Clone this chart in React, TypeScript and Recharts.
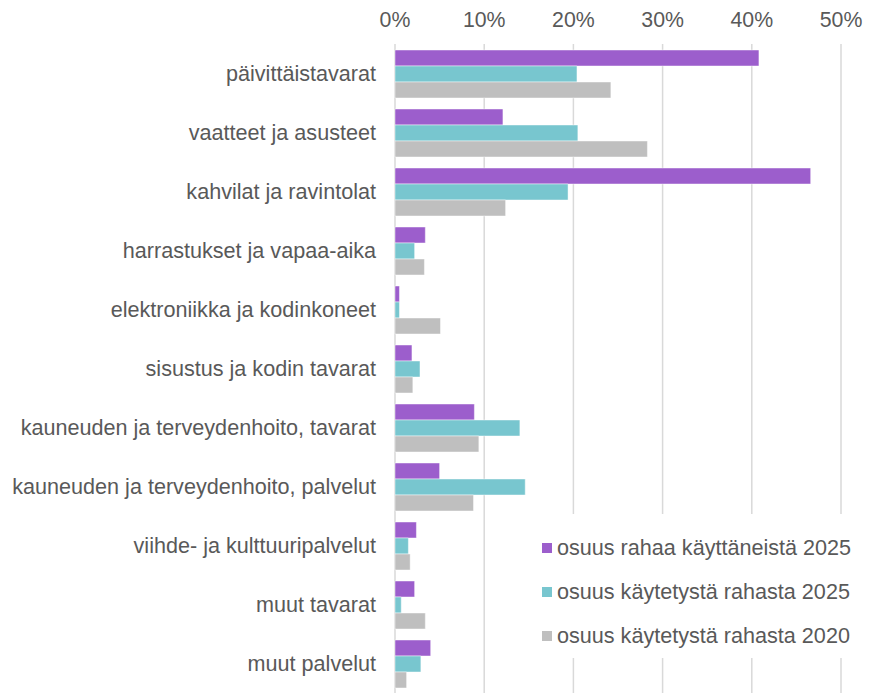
import React from "react";
import {
  BarChart,
  Bar,
  XAxis,
  YAxis,
  CartesianGrid,
  Legend,
} from "recharts";

const categories = [
  "päivittäistavarat",
  "vaatteet ja asusteet",
  "kahvilat ja ravintolat",
  "harrastukset ja vapaa-aika",
  "elektroniikka ja kodinkoneet",
  "sisustus ja kodin tavarat",
  "kauneuden ja terveydenhoito, tavarat",
  "kauneuden ja terveydenhoito, palvelut",
  "viihde- ja kulttuuripalvelut",
  "muut tavarat",
  "muut palvelut",
];

const spenders2025 = [40.8, 12.1, 46.6, 3.4, 0.5, 1.9, 8.9, 5.0, 2.4, 2.2, 4.0];
const spent2025 = [20.4, 20.5, 19.4, 2.2, 0.5, 2.8, 14.0, 14.6, 1.5, 0.7, 2.9];
const spent2020 = [24.2, 28.3, 12.4, 3.3, 5.1, 2.0, 9.4, 8.8, 1.7, 3.4, 1.3];

const xTicks = [0, 10, 20, 30, 40, 50];

const SERIES = [
  { key: "a", name: "osuus rahaa käyttäneistä 2025", color: "#9C5ECC" },
  { key: "b", name: "osuus käytetystä rahasta 2025", color: "#78C6CF" },
  { key: "c", name: "osuus käytetystä rahasta 2020", color: "#BFBFBF" },
];

const data = categories.map((label, i) => ({
  label,
  a: spenders2025[i],
  b: spent2025[i],
  c: spent2020[i],
}));

const FONT = '"Liberation Sans", Arial, sans-serif';
const TEXT = "#595959";

function LegendBox() {
  return (
    <div style={{ background: "#fff", paddingTop: 12 }}>
      {SERIES.map((s) => (
        <div
          key={s.key}
          style={{
            display: "flex",
            alignItems: "center",
            height: 44,
            fontFamily: FONT,
            fontSize: 21.6,
            color: TEXT,
            whiteSpace: "nowrap",
          }}
        >
          <span
            style={{
              display: "inline-block",
              width: 10,
              height: 10,
              background: s.color,
              marginRight: 5,
              marginLeft: 9,
            }}
          />
          {s.name}
        </div>
      ))}
    </div>
  );
}

export default function App() {
  return (
    <div style={{ position: "absolute", left: 0, top: 0, background: "#fff" }}>
      <BarChart
        width={876}
        height={693}
        data={data}
        layout="vertical"
        margin={{ top: 0, right: 35, bottom: 0, left: 0 }}
        barSize={16}
        barGap={0}
      >
        <CartesianGrid
          horizontal={false}
          stroke="#D9D9D9"
          strokeWidth={1.5}
        />
        <XAxis
          type="number"
          orientation="top"
          domain={[0, 50]}
          ticks={xTicks}
          tickFormatter={(v) => `${v}%`}
          axisLine={false}
          tickLine={false}
          height={44}
          tickMargin={11}
          tick={{ fontSize: 21.3, fill: TEXT, fontFamily: FONT }}
          interval={0}
        />
        <YAxis
          type="category"
          dataKey="label"
          width={395}
          axisLine={false}
          tickLine={false}
          tickMargin={13}
          tick={{ fontSize: 21.6, fill: TEXT, fontFamily: FONT }}
          interval={0}
        />
        {SERIES.map((s) => (
          <Bar
            key={s.key}
            dataKey={s.key}
            name={s.name}
            fill={s.color}
            stroke="#ffffff"
            strokeOpacity={0.45}
            strokeWidth={1}
            isAnimationActive={false}
          />
        ))}
        <Legend
          layout="vertical"
          align="center"
          verticalAlign="middle"
          wrapperStyle={{ left: 533, top: 514, width: 335, height: 144 }}
          content={() => <LegendBox />}
        />
      </BarChart>
    </div>
  );
}
